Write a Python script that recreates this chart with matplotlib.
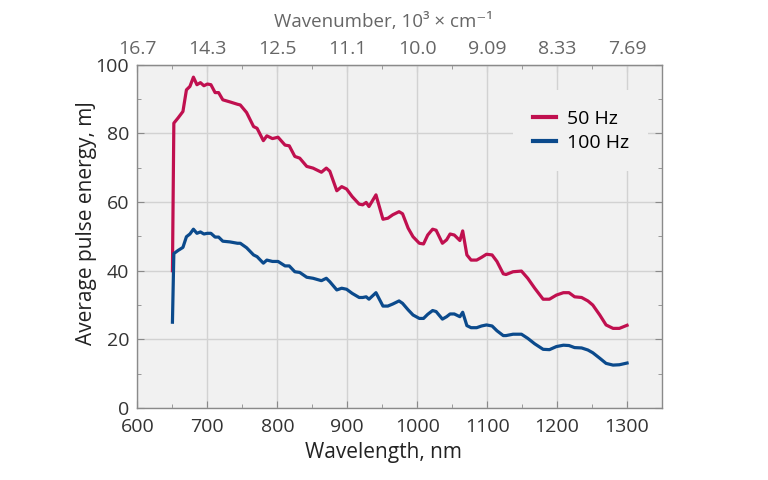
import matplotlib
matplotlib.use("Agg")
import matplotlib.pyplot as plt
from matplotlib.ticker import MultipleLocator, FuncFormatter

plt.rcParams["font.family"] = ["Open Sans", "DejaVu Sans"]

# wavelength grid shared by both curves, nm
wavelength = [650, 652, 658, 665, 670, 675, 680, 685, 690, 695, 700, 705, 711, 716,
              722, 732, 743, 747, 756, 766, 771, 780, 785, 793, 801, 811, 817, 825,
              832, 842, 851, 863, 870, 875, 885, 892, 899, 907, 917, 922, 927, 931,
              941, 951, 958, 965, 974, 979, 987, 994, 1003, 1009, 1015, 1022, 1027,
              1036, 1042, 1047, 1053, 1061, 1065, 1071, 1077, 1085, 1092, 1099, 1107,
              1114, 1123, 1127, 1137, 1149, 1158, 1168, 1180, 1189, 1199, 1209, 1217,
              1225, 1235, 1244, 1251, 1261, 1270, 1280, 1289, 1300]

energy_50hz = [40.0, 83.0, 84.5, 86.4, 92.7, 93.7, 96.4, 94.2, 94.8, 93.9, 94.4, 94.2,
               91.9, 91.9, 89.8, 89.2, 88.5, 88.3, 86.1, 82.0, 81.5, 77.9, 79.3, 78.5,
               78.9, 76.6, 76.4, 73.3, 72.8, 70.4, 69.9, 68.7, 69.9, 69.0, 63.3, 64.5,
               63.8, 61.6, 59.4, 59.2, 59.9, 58.7, 62.1, 55.0, 55.3, 56.3, 57.2, 56.6,
               52.4, 49.9, 48.0, 47.8, 50.4, 52.1, 51.8, 48.0, 49.0, 50.7, 50.4, 48.8,
               51.6, 44.6, 43.1, 43.1, 43.9, 44.8, 44.6, 42.7, 39.1, 38.9, 39.7, 39.9,
               37.8, 34.9, 31.7, 31.7, 32.9, 33.6, 33.6, 32.4, 32.2, 31.2, 30.0, 27.1,
               24.2, 23.2, 23.2, 24.1]

energy_100hz = [25.0, 45.0, 45.9, 46.8, 49.9, 50.7, 52.1, 50.9, 51.3, 50.7, 50.9, 50.9,
                49.8, 49.8, 48.6, 48.4, 48.0, 48.0, 46.7, 44.6, 44.1, 42.2, 43.1, 42.7,
                42.7, 41.4, 41.4, 39.7, 39.5, 38.1, 37.8, 37.1, 37.8, 36.8, 34.4, 34.9,
                34.6, 33.4, 32.2, 32.2, 32.4, 31.7, 33.6, 29.7, 29.7, 30.3, 31.2, 30.5,
                28.6, 27.1, 26.1, 26.1, 27.3, 28.4, 28.1, 25.9, 26.6, 27.4, 27.4, 26.6,
                27.9, 24.0, 23.4, 23.4, 23.9, 24.2, 23.9, 22.5, 21.1, 21.1, 21.5, 21.5,
                20.3, 18.7, 17.1, 17.0, 17.9, 18.3, 18.2, 17.6, 17.5, 16.9, 16.1, 14.5,
                13.0, 12.5, 12.6, 13.1]

RED = "#c0104f"
BLUE = "#0b4a8c"
SPINE = "#8a8a8a"

fig = plt.figure(figsize=(7.68, 4.8), dpi=100)
ax = fig.add_axes([0.179, 0.15, 0.683, 0.715])
ax.set_facecolor("#f1f1f1")

ax.plot(wavelength, energy_50hz, color=RED, lw=2.3, label="50 Hz", zorder=3)
ax.plot(wavelength, energy_100hz, color=BLUE, lw=2.3, label="100 Hz", zorder=3)

ax.set_xlim(600, 1350)
ax.set_ylim(0, 100)
ax.xaxis.set_major_locator(MultipleLocator(100))
ax.xaxis.set_minor_locator(MultipleLocator(50))
ax.yaxis.set_major_locator(MultipleLocator(20))
ax.yaxis.set_minor_locator(MultipleLocator(10))
ax.grid(True, which="major", color="#d2d2d2", lw=1.0, zorder=0)
ax.set_axisbelow(True)

for s in ax.spines.values():
    s.set_color(SPINE)
    s.set_linewidth(1.0)
ax.tick_params(which="both", direction="in", right=True, top=False,
               color=SPINE, labelsize=14, labelcolor="#333333")
ax.tick_params(axis="x", which="both", pad=7)
ax.tick_params(axis="y", which="both", pad=6)
ax.tick_params(which="major", length=5)
ax.tick_params(which="minor", length=3)

# labels are centred over the 600-1300 nm data span, as in the source figure
ax.set_xlabel("Wavelength, nm", fontsize=15, color="#222222")
ax.xaxis.set_label_coords(0.468, -0.1)
ax.set_ylabel("Average pulse energy, mJ", fontsize=15, color="#222222")
ax.yaxis.set_label_coords(-0.077, 0.54)

# top axis: wavenumber in 10^3 cm^-1 at the same tick positions
top = ax.secondary_xaxis("top")
top.xaxis.set_major_locator(MultipleLocator(100))
top.xaxis.set_minor_locator(MultipleLocator(50))
top.xaxis.set_major_formatter(FuncFormatter(lambda x, pos: f"{1e4 / x:#.3g}"))
top.tick_params(which="both", direction="in", color=SPINE, labelsize=14,
                labelcolor="#666666", pad=5)
top.tick_params(which="major", length=5)
top.tick_params(which="minor", length=3)
top.spines["top"].set_color(SPINE)
top.set_xlabel("Wavenumber, 10³ × cm⁻¹", fontsize=13.5, color="#666666")
top.xaxis.set_label_coords(0.468, 1.11, transform=ax.transAxes)

leg = ax.legend(loc="center", bbox_to_anchor=(0.845, 0.808), fontsize=14,
                frameon=True, facecolor="#f1f1f1", edgecolor="none", framealpha=1,
                handlelength=1.2, handletextpad=0.55, borderpad=1.0, labelspacing=0.3)
for line in leg.get_lines():
    line.set_linewidth(3)

fig.savefig("out.png", dpi=100)
